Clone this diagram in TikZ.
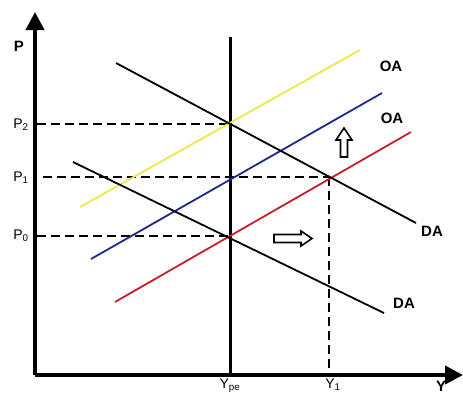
\documentclass[tikz,border=0pt]{standalone}
\usepackage{fontspec}
\setmainfont{Liberation Sans}
\usetikzlibrary{arrows.meta}
\definecolor{cyellow}{RGB}{236,232,70}
\definecolor{cblue}{RGB}{30,40,140}
\definecolor{cred}{RGB}{200,30,40}
\tikzset{
  axisline/.style={line width=4pt,-{Triangle[width=18pt,length=18pt]}},
  guide/.style={line width=1.8pt,dash pattern=on 9pt off 5pt},
  curve/.style={line width=1.8pt},
  lbl/.style={font=\fontsize{14}{16}\selectfont,inner sep=0pt},
  blbl/.style={font=\fontsize{15}{17}\selectfont\bfseries,inner sep=0pt},
  blockarrow/.style={line width=1.6pt,fill=white,line join=miter}
}
\begin{document}
\begin{tikzpicture}[x=1pt,y=-1pt]
\useasboundingbox (0,0) rectangle (463,394);
% axes
\coordinate (O) at (35,375);
\coordinate (Ytop) at (35,12);
\coordinate (Xend) at (463,375);
\draw[axisline] (O) -- (Ytop);
\draw[axisline] (O) -- (Xend);
% vertical Ype
\coordinate (ype1) at (230,37);
\coordinate (ype0) at (230,375);
\draw[line width=3pt] (ype1) -- (ype0);
% equilibria
\coordinate (E2) at (230,124);
\coordinate (E1) at (329,177);
\coordinate (E0) at (230,236);
\coordinate (p2) at (37,124);
\coordinate (p1) at (43,177);
\coordinate (p0) at (37,236);
\coordinate (y1) at (329,375);
\draw[guide] (p2) -- (E2);
\draw[guide] (p1) -- (E1);
\draw[guide] (p0) -- (E0);
\draw[guide] (E1) -- (y1);
% supply curves
\coordinate (ya) at (80,207); \coordinate (yb) at (360,50);
\coordinate (ba) at (91,259); \coordinate (bb) at (382,93);
\coordinate (ra) at (115,302); \coordinate (rb) at (411,132);
\draw[curve,cyellow] (ya) -- (yb);
\draw[curve,cblue] (ba) -- (bb);
\draw[curve,cred] (ra) -- (rb);
% demand curves
\coordinate (da) at (116,63); \coordinate (db) at (416,223);
\coordinate (dc) at (73,162); \coordinate (dd) at (384,313);
\draw[curve,black] (da) -- (db);
\draw[curve,black] (dc) -- (dd);
% block arrows
\draw[blockarrow] (344,128) -- (352,140) -- (347.5,140) -- (347.5,157) -- (340.5,157) -- (340.5,140) -- (336,140) -- cycle;
\draw[blockarrow] (312,238.5) -- (301,231) -- (301,234.5) -- (274,234.5) -- (274,242.5) -- (301,242.5) -- (301,246) -- cycle;
% labels
\node[blbl] (lP) at (19,46) {P};
\node[lbl] (lP2) at (21,125) {P\textsubscript{2}};
\node[lbl] (lP1) at (21,178) {P\textsubscript{1}};
\node[lbl] (lP0) at (21,236) {P\textsubscript{0}};
\node[lbl] (lYpe) at (230,386) {Y\textsubscript{pe}};
\node[lbl] (lY1) at (333,385) {Y\textsubscript{1}};
\node[blbl] (lY) at (441,386) {Y};
\node[blbl] (oa1) at (391,66) {OA};
\node[blbl] (oa2) at (392,118) {OA};
\node[blbl] (da1) at (432,231) {DA};
\node[blbl] (da2) at (404,303) {DA};
\end{tikzpicture}
\end{document}
